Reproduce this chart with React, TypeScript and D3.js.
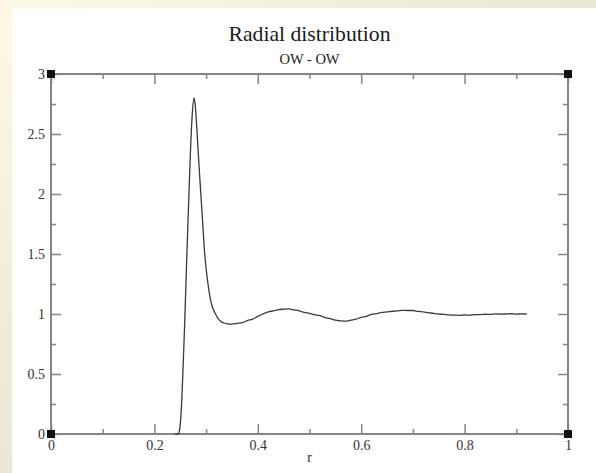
import React, { useEffect, useRef } from 'react';
import * as d3 from 'd3';

// g(r)
const rValues = [
  0.24, 0.246, 0.248, 0.25, 0.252, 0.255, 0.258, 0.261, 0.264, 0.267, 0.27, 0.273,
  0.2765, 0.279, 0.282, 0.285, 0.288, 0.291, 0.294, 0.297, 0.3, 0.304, 0.308, 0.312, 0.317,
  0.322, 0.328, 0.335, 0.342, 0.35, 0.36, 0.37, 0.38, 0.39, 0.4, 0.41, 0.42, 0.43, 0.44, 0.45,
  0.46, 0.47, 0.48, 0.49, 0.5, 0.51, 0.52, 0.53, 0.54, 0.55, 0.56, 0.57, 0.58, 0.59, 0.6, 0.61,
  0.62, 0.63, 0.64, 0.65, 0.66, 0.67, 0.68, 0.69, 0.7, 0.71, 0.72, 0.73, 0.74, 0.75, 0.76, 0.77,
  0.78, 0.79, 0.8, 0.81, 0.82, 0.83, 0.84, 0.85, 0.86, 0.87, 0.88, 0.89, 0.9, 0.91, 0.92,
];
const gValues = [
  0, 0, 0.02, 0.08, 0.2, 0.5, 0.85, 1.25, 1.65, 2.02, 2.38, 2.65,
  2.8, 2.74, 2.55, 2.33, 2.12, 1.92, 1.72, 1.52, 1.38, 1.24, 1.13, 1.06, 1.01,
  0.97, 0.94, 0.925, 0.918, 0.915, 0.922, 0.928, 0.945, 0.958, 0.98, 1.0, 1.017, 1.026, 1.036, 1.04,
  1.042, 1.034, 1.026, 1.013, 1.006, 0.994, 0.986, 0.97, 0.962, 0.948, 0.943, 0.94, 0.949, 0.957, 0.972, 0.981,
  0.996, 1.004, 1.013, 1.017, 1.023, 1.026, 1.031, 1.029, 1.029, 1.021, 1.018, 1.011, 1.006, 0.999, 0.997, 0.992,
  0.991, 0.989, 0.992, 0.99, 0.995, 0.994, 0.998, 0.997, 1.001, 0.999, 1.0, 1.002, 0.999, 1.001, 1.0,
];

const xMajorTicks = [0, 0.2, 0.4, 0.6, 0.8, 1];
const xMinorTicks = [0.1, 0.3, 0.5, 0.7, 0.9];
const yMajorTicks = [0, 0.5, 1, 1.5, 2, 2.5, 3];
const yMinorTicks = [0.25, 0.75, 1.25, 1.75, 2.25, 2.75];

const title = 'Radial distribution';
const subtitle = 'OW - OW';
const xLabel = 'r';

export default function App() {
  const svgRef = useRef<SVGSVGElement>(null);

  useEffect(() => {
    const width = 596;
    const height = 473;
    const plot = { left: 51, right: 568, top: 74, bottom: 434 };
    const font = '"Liberation Serif", "Times New Roman", serif';
    const axisColor = '#858585';

    const svg = d3.select(svgRef.current).attr('width', width).attr('height', height);
    svg.selectAll('*').remove();

    // slide background
    const defs = svg.append('defs');
    const grad = defs
      .append('linearGradient')
      .attr('id', 'bg')
      .attr('x1', 0)
      .attr('y1', 0)
      .attr('x2', 1)
      .attr('y2', 1);
    grad.append('stop').attr('offset', '0%').attr('stop-color', '#fdf9e6');
    grad.append('stop').attr('offset', '100%').attr('stop-color', '#d8d5c6');
    svg.append('rect').attr('width', width).attr('height', height).attr('fill', 'url(#bg)');
    svg.append('rect').attr('x', 12).attr('y', 8).attr('width', width - 12).attr('height', height - 8).attr('fill', '#ffffff');

    const xScale = d3.scaleLinear().domain([0, 1]).range([plot.left, plot.right]);
    const yScale = d3.scaleLinear().domain([0, 3]).range([plot.bottom, plot.top]);

    // titles
    svg
      .append('text')
      .attr('x', (plot.left + plot.right) / 2)
      .attr('y', 41)
      .attr('text-anchor', 'middle')
      .style('font-family', font)
      .style('font-size', '21.7px')
      .attr('fill', '#1a1a1a')
      .text(title);
    svg
      .append('text')
      .attr('x', (plot.left + plot.right) / 2)
      .attr('y', 63.5)
      .attr('text-anchor', 'middle')
      .style('font-family', font)
      .style('font-size', '14.5px')
      .attr('fill', '#222')
      .text(subtitle);

    const styleAxis = (g: any, labels: boolean) => {
      g.select('.domain').remove();
      g.selectAll('line').attr('stroke', axisColor).attr('stroke-width', 1.5);
      if (!labels) g.selectAll('text').remove();
      g.selectAll('text').style('font-family', font).style('font-size', '14px').attr('fill', '#333');
    };

    const fmt = (d: any) => d3.format('')(d);

    // bottom
    svg
      .append('g')
      .attr('transform', `translate(0,${plot.bottom})`)
      .call(d3.axisBottom(xScale).tickValues(xMajorTicks).tickSize(-10).tickPadding(6).tickFormat(fmt))
      .call((g) => styleAxis(g, true));
    svg
      .append('g')
      .attr('transform', `translate(0,${plot.bottom})`)
      .call(d3.axisBottom(xScale).tickValues(xMinorTicks).tickSize(-5))
      .call((g) => styleAxis(g, false));
    // top
    svg
      .append('g')
      .attr('transform', `translate(0,${plot.top})`)
      .call(d3.axisTop(xScale).tickValues(xMajorTicks).tickSize(-10))
      .call((g) => styleAxis(g, false));
    svg
      .append('g')
      .attr('transform', `translate(0,${plot.top})`)
      .call(d3.axisTop(xScale).tickValues(xMinorTicks).tickSize(-5))
      .call((g) => styleAxis(g, false));
    // left
    svg
      .append('g')
      .attr('transform', `translate(${plot.left},0)`)
      .call(d3.axisLeft(yScale).tickValues(yMajorTicks).tickSize(-10).tickPadding(6).tickFormat(fmt))
      .call((g) => styleAxis(g, true));
    svg
      .append('g')
      .attr('transform', `translate(${plot.left},0)`)
      .call(d3.axisLeft(yScale).tickValues(yMinorTicks).tickSize(-5))
      .call((g) => styleAxis(g, false));
    // right
    svg
      .append('g')
      .attr('transform', `translate(${plot.right},0)`)
      .call(d3.axisRight(yScale).tickValues(yMajorTicks).tickSize(-10))
      .call((g) => styleAxis(g, false));
    svg
      .append('g')
      .attr('transform', `translate(${plot.right},0)`)
      .call(d3.axisRight(yScale).tickValues(yMinorTicks).tickSize(-5))
      .call((g) => styleAxis(g, false));

    // frame
    svg
      .append('rect')
      .attr('x', plot.left)
      .attr('y', plot.top)
      .attr('width', plot.right - plot.left)
      .attr('height', plot.bottom - plot.top)
      .attr('fill', 'none')
      .attr('stroke', axisColor)
      .attr('stroke-width', 2);

    // axis label
    svg
      .append('text')
      .attr('x', (plot.left + plot.right) / 2)
      .attr('y', 462)
      .attr('text-anchor', 'middle')
      .style('font-family', font)
      .style('font-size', '15px')
      .attr('fill', '#333')
      .text(xLabel);

    // curve
    const data = rValues.map((r, i) => [r, gValues[i]] as [number, number]);
    const line = d3
      .line<[number, number]>()
      .x((d) => xScale(d[0]))
      .y((d) => yScale(d[1]))
      .curve(d3.curveMonotoneX);
    svg
      .append('path')
      .datum(data)
      .attr('d', line)
      .attr('fill', 'none')
      .attr('stroke', '#3a3a3a')
      .attr('stroke-width', 1.3);

    // corner handles
    const corners = [
      [0, 0],
      [1, 0],
      [0, 3],
      [1, 3],
    ];
    svg
      .selectAll('rect.handle')
      .data(corners)
      .enter()
      .append('rect')
      .attr('class', 'handle')
      .attr('x', (d) => xScale(d[0]) - 4)
      .attr('y', (d) => yScale(d[1]) - 4)
      .attr('width', 8)
      .attr('height', 8)
      .attr('fill', '#111');
  }, []);

  return <svg ref={svgRef} style={{ position: 'absolute', left: 0, top: 0, display: 'block' }} />;
}
